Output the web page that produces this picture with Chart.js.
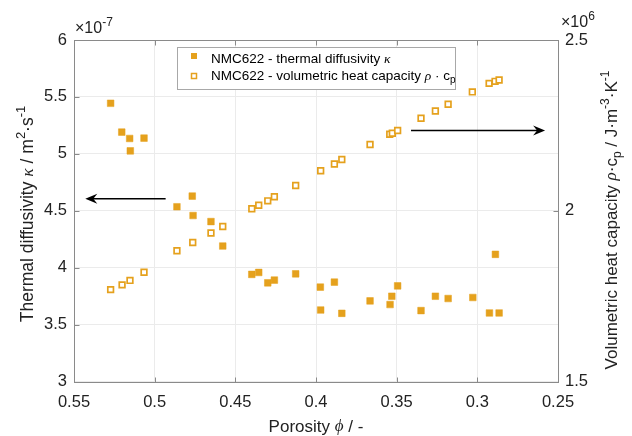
<!DOCTYPE html>
<html>
<head>
<meta charset="utf-8">
<script src="https://cdn.jsdelivr.net/npm/chart.js@4.4.1/dist/chart.umd.min.js"></script>
<style>
  html, body { margin: 0; padding: 0; background: #fff; }
  #wrap { width: 632px; height: 436px; position: relative; }
</style>
</head>
<body>
<div id="wrap"><canvas id="grafico"></canvas></div>
<script>
// ------------------------------------------------
// Dados (x = porosidade)
// kappa em 1e-7 m²/s, capacidade em 1e6 J/(m³·K)
// ------------------------------------------------
const POROSIDADE_KAPPA = [0.5273, 0.5204, 0.5155, 0.5066, 0.5151, 0.4862, 0.4767, 0.4762, 0.4651, 0.4578,
                          0.4398, 0.4355, 0.4299, 0.4258, 0.4126, 0.3973, 0.3971, 0.3886, 0.3840, 0.3665,
                          0.3541, 0.3530, 0.3494, 0.3349, 0.3260, 0.3181, 0.3028, 0.2925, 0.2865, 0.2888];
const KAPPA = [5.444, 5.191, 5.135, 5.138, 5.026, 4.535, 4.629, 4.458, 4.405, 4.190,
               3.941, 3.958, 3.867, 3.891, 3.946, 3.829, 3.628, 3.873, 3.599, 3.708,
               3.676, 3.749, 3.840, 3.623, 3.749, 3.729, 3.738, 3.602, 3.602, 4.117];

const POROSIDADE_CP = [0.5273, 0.5202, 0.5153, 0.5066, 0.4862, 0.4764, 0.4651, 0.4578, 0.4398, 0.4355,
                       0.4299, 0.4258, 0.4126, 0.3971, 0.3886, 0.3840, 0.3665, 0.3543, 0.3527, 0.3494,
                       0.3349, 0.3260, 0.3181, 0.3031, 0.2927, 0.2890, 0.2865];
const RHO_CP = [1.769, 1.783, 1.796, 1.820, 1.883, 1.907, 1.935, 1.954, 2.006, 2.016,
                2.029, 2.041, 2.074, 2.117, 2.137, 2.150, 2.194, 2.224, 2.227, 2.235,
                2.271, 2.292, 2.312, 2.348, 2.373, 2.379, 2.383];

const X_TICKS  = [0.55, 0.5, 0.45, 0.4, 0.35, 0.3, 0.25];
const YL_TICKS = [3, 3.5, 4, 4.5, 5, 5.5, 6];
const YR_TICKS = [1.5, 2, 2.5];

const LEGENDA = ['NMC622 - thermal diffusivity ', 'NMC622 - volumetric heat capacity '];

// setas (em coordenadas de dados)
const SETA_KAPPA = { x0: 0.4932, x1: 0.5430, y: 4.605, eixo: 'yL' };
const SETA_CP    = { x0: 0.3411, x1: 0.2580, y: 2.235, eixo: 'yR' };

const COR = '#E5A11D';
const SANS = '"Liberation Sans", Arial, sans-serif';
const SERIF = '"Liberation Serif", "Times New Roman", serif';

// ------------------------------------------------
// Texto com sobrescrito / subscrito / itálico
// ------------------------------------------------
function fonteParte(tipo, tam) {
    if (tipo === 'i') return `italic ${tam}px ${SERIF}`;
    if (tipo === '^' || tipo === '_') return `${Math.round(tam * 0.72)}px ${SANS}`;
    return `${tam}px ${SANS}`;
}

function textoRico(ctx, partes, x, y, tam, alinhar) {
    let total = 0;
    partes.forEach(([t, tipo]) => { ctx.font = fonteParte(tipo, tam); total += ctx.measureText(t).width; });
    let cx = alinhar === 'center' ? x - total / 2 : x;
    ctx.textAlign = 'left';
    ctx.textBaseline = 'middle';
    partes.forEach(([t, tipo]) => {
        ctx.font = fonteParte(tipo, tam);
        let dy = 0;
        if (tipo === '^') dy = -tam * 0.4;
        if (tipo === '_') dy = tam * 0.35;
        ctx.fillText(t, cx, y + dy);
        cx += ctx.measureText(t).width;
    });
}

function seta(ctx, ax, ay, bx, by) {
    ctx.save();
    ctx.strokeStyle = '#000';
    ctx.fillStyle = '#000';
    ctx.lineWidth = 1.5;
    const dir = Math.sign(bx - ax);
    ctx.beginPath();
    ctx.moveTo(ax, ay);
    ctx.lineTo(bx - dir * 4, by);
    ctx.stroke();
    ctx.beginPath();
    ctx.moveTo(bx, by);
    ctx.lineTo(bx - dir * 12, by - 5);
    ctx.lineTo(bx - dir * 8, by);
    ctx.lineTo(bx - dir * 12, by + 5);
    ctx.closePath();
    ctx.fill();
    ctx.restore();
}

// ------------------------------------------------
// Plugin: caixa, marcas, títulos, legenda, setas
// ------------------------------------------------
const extras = {
    id: 'extras',
    afterDatasetsDraw(chart) {
        const { ctx, chartArea: a, scales } = chart;
        const L = Math.round(a.left) + 0.5, R = Math.round(a.right) + 0.5;
        const T = Math.round(a.top) + 0.5,  B = Math.round(a.bottom) + 0.5;

        ctx.save();
        // marcas internas
        ctx.strokeStyle = '#8a8a8a';
        ctx.lineWidth = 1;
        ctx.beginPath();
        X_TICKS.forEach(v => {
            const px = Math.round(scales.x.getPixelForValue(v)) + 0.5;
            ctx.moveTo(px, B); ctx.lineTo(px, B - 5);
            ctx.moveTo(px, T); ctx.lineTo(px, T + 5);
        });
        YL_TICKS.forEach(v => {
            const py = Math.round(scales.yL.getPixelForValue(v)) + 0.5;
            ctx.moveTo(L, py); ctx.lineTo(L + 5, py);
        });
        YR_TICKS.forEach(v => {
            const py = Math.round(scales.yR.getPixelForValue(v)) + 0.5;
            ctx.moveTo(R, py); ctx.lineTo(R - 5, py);
        });
        ctx.stroke();
        // caixa
        ctx.strokeRect(L, T, R - L, B - T);

        // setas
        [SETA_KAPPA, SETA_CP].forEach(s => {
            const py = scales[s.eixo].getPixelForValue(s.y);
            seta(ctx, scales.x.getPixelForValue(s.x0), py, scales.x.getPixelForValue(s.x1), py);
        });

        // legenda
        ctx.fillStyle = '#fff';
        ctx.fillRect(177.5, 47.5, 278, 42);
        ctx.strokeStyle = '#a8a8a8';
        ctx.strokeRect(177.5, 47.5, 278, 42);
        ctx.fillStyle = COR;
        ctx.fillRect(191, 53, 6, 6);
        ctx.strokeStyle = COR;
        ctx.lineWidth = 1.5;
        ctx.strokeRect(191.5, 73.5, 5, 5);
        ctx.fillStyle = '#000';
        textoRico(ctx, [[LEGENDA[0], ''], ['κ', 'i']], 211, 59, 13.5, 'left');
        textoRico(ctx, [[LEGENDA[1], ''], ['ρ', 'i'], [' · c', ''], ['p', '_']], 211, 76, 13.5, 'left');

        // multiplicadores
        ctx.fillStyle = '#222';
        textoRico(ctx, [['×10', ''], ['-7', '^']], 75, 29, 16, 'left');
        textoRico(ctx, [['×10', ''], ['6', '^']], 561, 23, 16, 'left');

        // títulos dos eixos
        textoRico(ctx, [['Porosity ', ''], ['ϕ', 'i'], [' / -', '']], 316, 427, 17, 'center');

        ctx.save();
        ctx.translate(28, 214);
        ctx.rotate(-Math.PI / 2);
        textoRico(ctx, [['Thermal diffusivity ', ''], ['κ', 'i'], [' / m', ''], ['2', '^'], ['·s', ''], ['-1', '^']], 0, 0, 17.5, 'center');
        ctx.restore();

        ctx.save();
        ctx.translate(612, 220);
        ctx.rotate(-Math.PI / 2);
        textoRico(ctx, [['Volumetric heat capacity ', ''], ['ρ', 'i'], ['·c', ''], ['p', '_'], [' / J·m', ''], ['-3', '^'], ['·K', ''], ['-1', '^']], 0, 0, 17, 'center');
        ctx.restore();

        ctx.restore();
    }
};

// ------------------------------------------------
// Gráfico
// ------------------------------------------------
const rotulo = v => String(parseFloat(v.toFixed(2)));

new Chart(document.getElementById('grafico').getContext('2d'), {
    type: 'scatter',
    data: {
        datasets: [
            {
                label: LEGENDA[0],
                data: POROSIDADE_KAPPA.map((x, i) => ({ x, y: KAPPA[i] })),
                yAxisID: 'yL',
                pointStyle: 'rect',
                pointRadius: 4.7,
                backgroundColor: COR,
                borderColor: COR,
                borderWidth: 0.5
            },
            {
                label: LEGENDA[1],
                data: POROSIDADE_CP.map((x, i) => ({ x, y: RHO_CP[i] })),
                yAxisID: 'yR',
                pointStyle: 'rect',
                pointRadius: 4,
                backgroundColor: '#fff',
                borderColor: COR,
                borderWidth: 1.7
            }
        ]
    },
    options: {
        responsive: true,
        maintainAspectRatio: false,
        animation: false,
        devicePixelRatio: 1,
        layout: { padding: { top: 40, left: 0, right: 0, bottom: 0 } },
        plugins: { legend: { display: false }, tooltip: { enabled: false } },
        scales: {
            x: {
                type: 'linear',
                reverse: true,
                min: 0.25, max: 0.55,
                afterBuildTicks: s => { s.ticks = X_TICKS.map(value => ({ value })); },
                afterFit: s => { s.height = 54.5; },
                grid: { color: '#ebebeb', drawTicks: false },
                border: { display: false },
                ticks: { color: '#222', padding: 11, maxRotation: 0, autoSkip: false,
                         font: { family: SANS, size: 16.5 }, callback: rotulo }
            },
            yL: {
                position: 'left',
                min: 3, max: 6,
                afterBuildTicks: s => { s.ticks = YL_TICKS.map(value => ({ value })); },
                afterFit: s => { s.width = 74; },
                grid: { color: '#ebebeb', drawTicks: false },
                border: { display: false },
                ticks: { color: '#222', padding: 7, font: { family: SANS, size: 16.5 }, callback: rotulo }
            },
            yR: {
                position: 'right',
                min: 1.5, max: 2.5,
                afterBuildTicks: s => { s.ticks = YR_TICKS.map(value => ({ value })); },
                afterFit: s => { s.width = 74; },
                grid: { display: false, drawTicks: false },
                border: { display: false },
                ticks: { color: '#222', padding: 7, font: { family: SANS, size: 16.5 }, callback: rotulo }
            }
        }
    },
    plugins: [extras]
});
</script>
</body>
</html>
